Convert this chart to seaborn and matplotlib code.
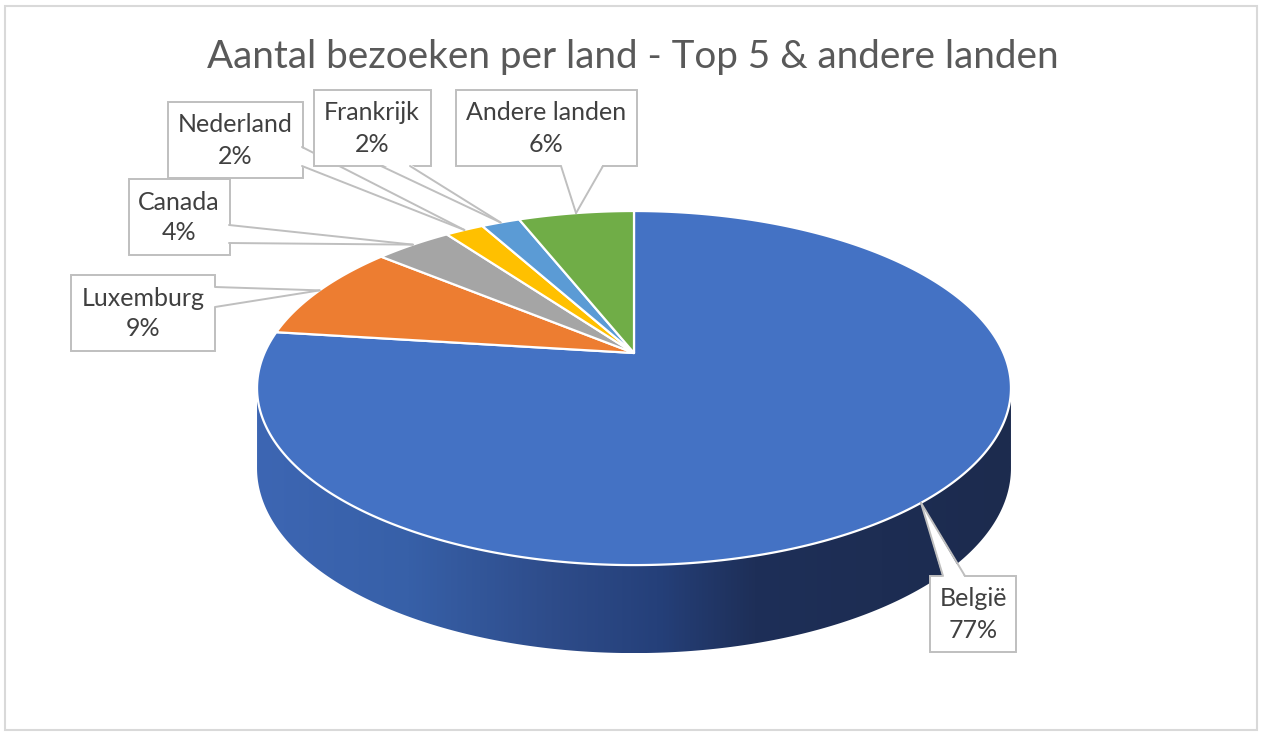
import numpy as np
import matplotlib
matplotlib.use("Agg")
import matplotlib.pyplot as plt
from matplotlib.patches import Polygon, Rectangle
from matplotlib.colors import LinearSegmentedColormap
import seaborn as sns

# data
countries = ["België", "Luxemburg", "Canada", "Nederland", "Frankrijk", "Andere landen"]
shares = [77, 9, 4, 2, 2, 6]
pct_labels = ["77%", "9%", "4%", "2%", "2%", "6%"]
title = "Aantal bezoeken per land - Top 5 & andere landen"

sns.set_style("white")
palette = sns.color_palette(["#4472C4", "#ED7D31", "#A5A5A5", "#FFC000", "#5B9BD5", "#70AD47"])
plt.rcParams["font.family"] = ["Lato", "DejaVu Sans"]

# 3D pie projection (pixel space of the figure)
CX, CY = 634, 353
A, B, K = 369.5, 170.1, 0.198


def proj(u, v):
    w = 1 + K * v
    return CX + A * u / w, CY - B * v / w


def depth(v):
    return 78 - 10 * v


# callout boxes: centre x, centre y, width, height, pointer base points
boxes = {
    "België": (973, 614, 86, 76, [(943, 576), (965, 576)]),
    "Luxemburg": (143, 313, 144, 76, [(215, 287), (215, 307)]),
    "Canada": (179, 217, 101, 76, [(229, 225), (229, 243)]),
    "Nederland": (235, 140, 135, 76, [(302, 147), (302, 166)]),
    "Frankrijk": (372, 128, 117, 76, [(381, 166), (410, 166)]),
    "Andere landen": (546, 128, 181, 76, [(561, 166), (603, 166)]),
}

fig = plt.figure(figsize=(12.63, 7.34), dpi=100)
ax = fig.add_axes([0, 0, 1, 1])

# side wall with horizontal gradient
a_left = np.pi + np.arcsin(K)
a_right = 2 * np.pi - np.arcsin(K)
al = np.linspace(a_left, a_right, 400)
u, v = np.cos(al), np.sin(al)
xt, yt = proj(u, v)
yb = yt + depth(v)
wall_pts = np.concatenate([np.c_[xt, yt], np.c_[xt[::-1], yb[::-1]]])
wall = Polygon(wall_pts, closed=True, facecolor="none", edgecolor="none")
ax.add_patch(wall)
wall_cmap = LinearSegmentedColormap.from_list(
    "wall",
    [(0, "#3d66b3"), (0.2, "#3760a8"), (0.39, "#2e4c8a"), (0.53, "#25407a"),
     (0.66, "#1e2f58"), (1, "#1c2b4e")],
)
grad = np.linspace(0, 1, 512)[None, :]
im = ax.imshow(grad, cmap=wall_cmap, extent=(xt.min(), xt.max(), yb.max(), yt.min()),
               aspect="auto", zorder=1, interpolation="bilinear")
im.set_clip_path(wall)

# top surface slices, clockwise from 12 o'clock
fracs = np.array(shares, dtype=float) / sum(shares)
starts = np.concatenate([[0], np.cumsum(fracs)[:-1]])
anchors = []
for i, (s, f) in enumerate(zip(starts, fracs)):
    phi = np.linspace(s, s + f, max(int(f * 600), 8)) * 2 * np.pi
    px, py = proj(np.sin(phi), np.cos(phi))
    pts = np.concatenate([[[CX, CY]], np.c_[px, py]])
    ax.add_patch(Polygon(pts, closed=True, facecolor=palette[i], edgecolor="white",
                         linewidth=1.6, joinstyle="round", zorder=2))
    mid = (s + f / 2) * 2 * np.pi
    anchors.append(proj(np.sin(mid), np.cos(mid)))

# callout labels
for i, name in enumerate(countries):
    cx, cy, w, h, base = boxes[name]
    z = 5 + i
    ax.add_patch(Rectangle((cx - w / 2, cy - h / 2), w, h, facecolor="white",
                           edgecolor="#bfbfbf", linewidth=1.4, zorder=z))
    apx, apy = anchors[i]
    inner = [(bx + np.sign(cx - bx) * 2 * (abs(cx - bx) > w / 2 - 2),
              by + np.sign(cy - by) * 2 * (abs(cy - by) > h / 2 - 2)) for bx, by in base]
    ax.add_patch(Polygon([inner[0], (apx, apy), inner[1]], closed=True,
                         facecolor="white", edgecolor="none", zorder=z + 0.1))
    for bx, by in base:
        ax.plot([bx, apx], [by, apy], color="#bfbfbf", linewidth=1.4, zorder=z + 0.2)
    ax.text(cx, cy - 15, name, ha="center", va="center", fontsize=18,
            color="#404040", zorder=z + 0.3)
    ax.text(cx, cy + 16, pct_labels[i], ha="center", va="center", fontsize=18,
            color="#404040", zorder=z + 0.3)

ax.text(633, 57, title, ha="center", va="center", fontsize=27.8, color="#595959")

# chart area border
ax.add_patch(Rectangle((5, 6), 1252, 724, facecolor="none", edgecolor="#d9d9d9",
                       linewidth=1.5, zorder=0))

ax.set_xlim(0, 1263)
ax.set_ylim(734, 0)
ax.axis("off")

fig.savefig("out.png", dpi=100)
